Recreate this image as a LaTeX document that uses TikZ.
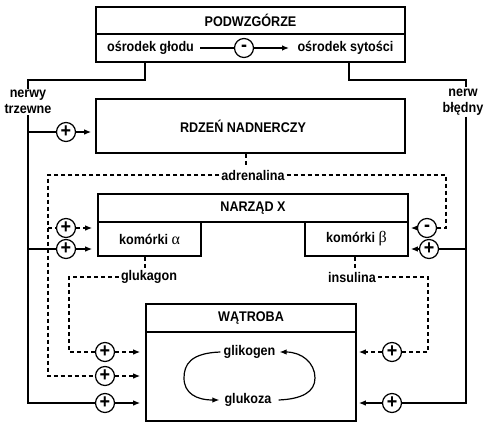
\documentclass[tikz,border=0pt]{standalone}
\usepackage{fontspec}
\setmainfont{Liberation Sans}[FakeStretch=0.9]
\newfontfamily\grk{Liberation Serif}
\usetikzlibrary{arrows.meta}
\begin{document}
\begin{tikzpicture}[x=1pt,y=-1pt,
 every node/.style={font=\fontsize{14}{16.5}\selectfont\bfseries},
 box/.style={draw, line width=1.6pt, rectangle, inner sep=0pt},
 ln/.style={line width=1.2pt},
 dsh/.style={line width=1.2pt, dash pattern=on 4pt off 3pt},
 arrl/.style={-{Latex[length=7pt,width=5.5pt]}, shorten >=5pt},
 arrr/.style={-{Latex[length=7pt,width=5.5pt]}, shorten >=2pt},
 cyc/.style={line width=1.2pt, -{Latex[length=7pt,width=5.5pt]}},
 sgn/.style={circle, draw, line width=1.2pt, minimum size=19pt, inner sep=0pt, fill=white, font=\fontsize{20}{20}\selectfont\bfseries}
]
\useasboundingbox (0,0) rectangle (500,436);
% Podwzgorze
\node[box, minimum width=309pt, minimum height=27pt] (podt) at (250.5,20.5) {PODWZGÓRZE};
\node[box, minimum width=309pt, minimum height=28pt] (podr) at (250.5,48) {};
\node (glod) at (150.5,48) {ośrodek głodu};
\node (syt) at (345.5,48) {ośrodek sytości};
\node[sgn] (s0) at (244,48) {-};
\draw[ln, shorten <=3pt] (glod) -- (s0);
\draw[ln, arrl, shorten >=5pt] (s0) -- (syt);
% Rdzen
\node[box, minimum width=309pt, minimum height=54pt] (rdzen) at (250.5,126) {};
\node (rdzt) at (243,126) {RDZEŃ NADNERCZY};
% Narzad X
\node[box, minimum width=310pt, minimum height=28pt] (nar) at (253,208) {NARZĄD X};
\node[box, minimum width=103pt, minimum height=34pt] (alfa) at (149.5,239) {komórki {\grk\mdseries\fontsize{16}{16}\selectfont α}};
\node[box, minimum width=103pt, minimum height=34pt] (beta) at (356.5,239) {komórki {\grk\mdseries\fontsize{16}{16}\selectfont β}};
% Watroba
\node[box, minimum width=210pt, minimum height=28pt] (watt) at (251,318) {WĄTROBA};
\node[box, minimum width=210pt, minimum height=89pt] (wat) at (251,376.5) {};
\node[inner sep=2pt] (gk) at (249.5,352) {glikogen};
\node[inner sep=2pt] (gz) at (248,400) {glukoza};
\draw[cyc] ([xshift=-1pt]gk.west) .. controls (190,353) and (184,365) .. (184,378) .. controls (184,393) and (196,400) .. ([xshift=-3pt]gz.west);
\draw[cyc] ([xshift=5pt]gz.east) .. controls (302,399) and (315,392) .. (315,378) .. controls (315,363) and (302,352) .. ([xshift=2pt]gk.east);
% nerve labels
\node[align=center, inner sep=1pt] (nt) at (28,102) {nerwy\\trzewne};
\node[align=center, inner sep=1pt] (nb) at (463,102) {nerw\\błędny};
% left solid nerve
\node[sgn] (sr) at (66,132) {+};
\node[sgn] (sa2) at (66,249) {+};
\node[sgn] (sw3) at (105,403) {+};
\draw[ln] (145,0 |- podr.south) -- (145,80) -- (28,80) -- (28,0 |- nt.north);
\draw[ln] (28,0 |- nt.south) -- (28,0 |- sw3.center) -- (sw3);
\draw[ln, arrl] (sw3) -- (wat.west |- sw3);
\draw[ln] (28,0 |- sr.center) -- (sr);
\draw[ln, arrl, shorten >=4pt] (sr) -- (rdzen.west |- sr);
\draw[ln] (28,0 |- sa2.center) -- (sa2);
\draw[ln, arrl] (sa2) -- (alfa.west |- sa2);
% right solid nerve
\node[sgn] (sb2) at (429,249) {+};
\node[sgn] (se2) at (392,403) {+};
\draw[ln] (349,0 |- podr.south) -- (349,80) -- (466,80) -- (466,0 |- nb.north);
\draw[ln] (466,0 |- nb.south) -- (466,0 |- se2.center) -- (se2);
\draw[ln, arrr] (se2) -- (wat.east |- se2);
\draw[ln] (466,0 |- sb2.center) -- (sb2);
\draw[ln, arrr] (sb2) -- (beta.east |- sb2);
% adrenalina
\node[inner sep=2pt] (adr) at (253,175) {adrenalina};
\node[sgn] (sa1) at (66,228) {+};
\node[sgn] (sw2) at (105,376) {+};
\node[sgn] (sb1) at (427,228) {-};
\draw[dsh] (246,0 |- rdzen.south) -- (246,0 |- adr.north);
\draw[dsh] (adr.west) -- (48,0 |- adr.west) -- (48,0 |- sw2.center) -- (sw2);
\draw[dsh, arrl] (sw2) -- (wat.west |- sw2);
\draw[dsh] (48,0 |- sa1.center) -- (sa1);
\draw[dsh, arrl] (sa1) -- (alfa.west |- sa1);
\draw[dsh] (adr.east) -- (446,0 |- adr.east) -- (446,0 |- sb1.center) -- (sb1);
\draw[dsh, arrr] (sb1) -- (beta.east |- sb1);
% glukagon
\node[inner sep=2pt] (glu) at (149,277) {glukagon};
\node[sgn] (sw1) at (105,352) {+};
\draw[dsh] (145,0 |- alfa.south) -- (145,0 |- glu.north);
\draw[dsh] (glu.west) -- (69,0 |- glu.west) -- (69,0 |- sw1.center) -- (sw1);
\draw[dsh, arrl] (sw1) -- (wat.west |- sw1);
% insulina
\node[inner sep=2pt] (ins) at (352,277) {insulina};
\node[sgn] (se1) at (392,352) {+};
\draw[dsh] (355,0 |- beta.south) -- (355,0 |- ins.north);
\draw[dsh] (ins.east) -- (428,0 |- ins.east) -- (428,0 |- se1.center) -- (se1);
\draw[dsh, arrr] (se1) -- (wat.east |- se1);
\end{tikzpicture}
\end{document}
